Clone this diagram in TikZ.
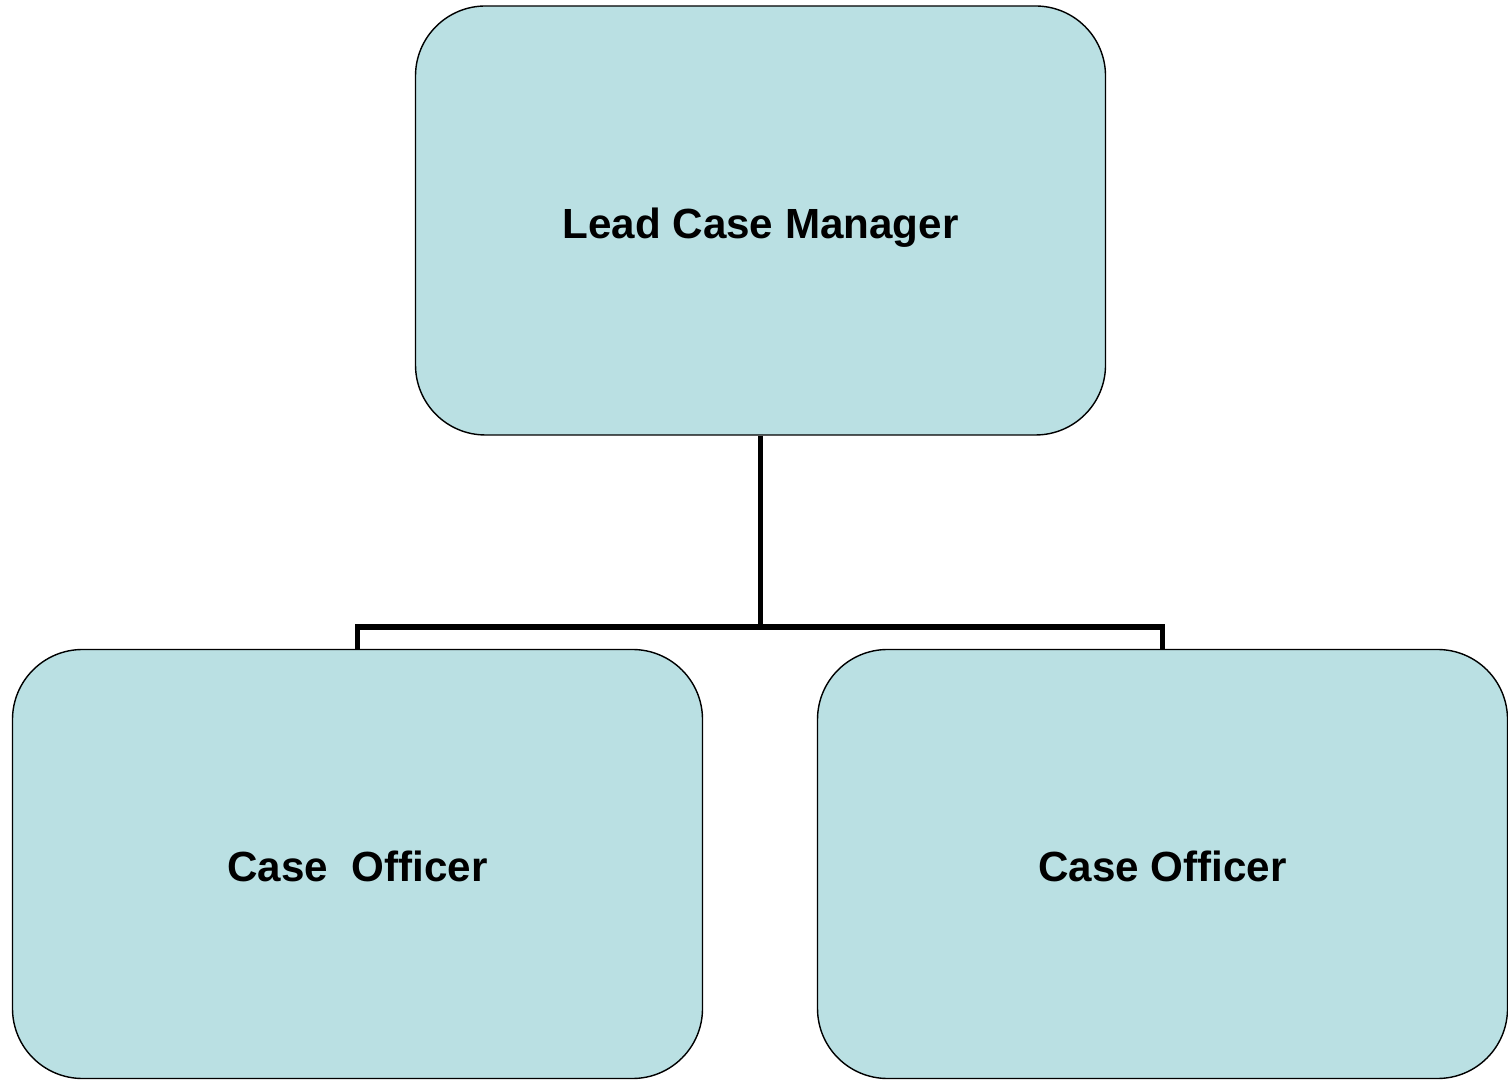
\documentclass[tikz,border=0pt]{standalone}
\usepackage{fontspec}
\setmainfont{Liberation Sans}
\usetikzlibrary{positioning}
\definecolor{boxfill}{RGB}{186,224,227}
\tikzset{
  postbox/.style={draw=black, line width=0.4pt, fill=boxfill, rounded corners=0.7cm,
    minimum width=6.9cm, minimum height=4.29cm, text height=0.36cm, text depth=0pt,
    font=\fontsize{12}{14}\selectfont\bfseries},
  linkline/.style={line width=1.5pt}
}
\begin{document}
\begin{tikzpicture}
		\useasboundingbox (0,0) rectangle (15.08,10.80);
		% Draw boxes.
		\node[postbox] (lead) at (7.605,8.595) {Lead Case Manager};
		\node[postbox] (officerA) at (3.575,2.16) {Case\ \ Officer};
		\node[postbox] (officerB) at (11.625,2.16) {Case Officer};
		\coordinate (bus) at (7.605,4.53);
		% Draw links.
		\draw[linkline] (lead.south) -- (bus);
		\draw[linkline] (officerA.north) |- (bus) -| (officerB.north);
	\end{tikzpicture}
\end{document}
